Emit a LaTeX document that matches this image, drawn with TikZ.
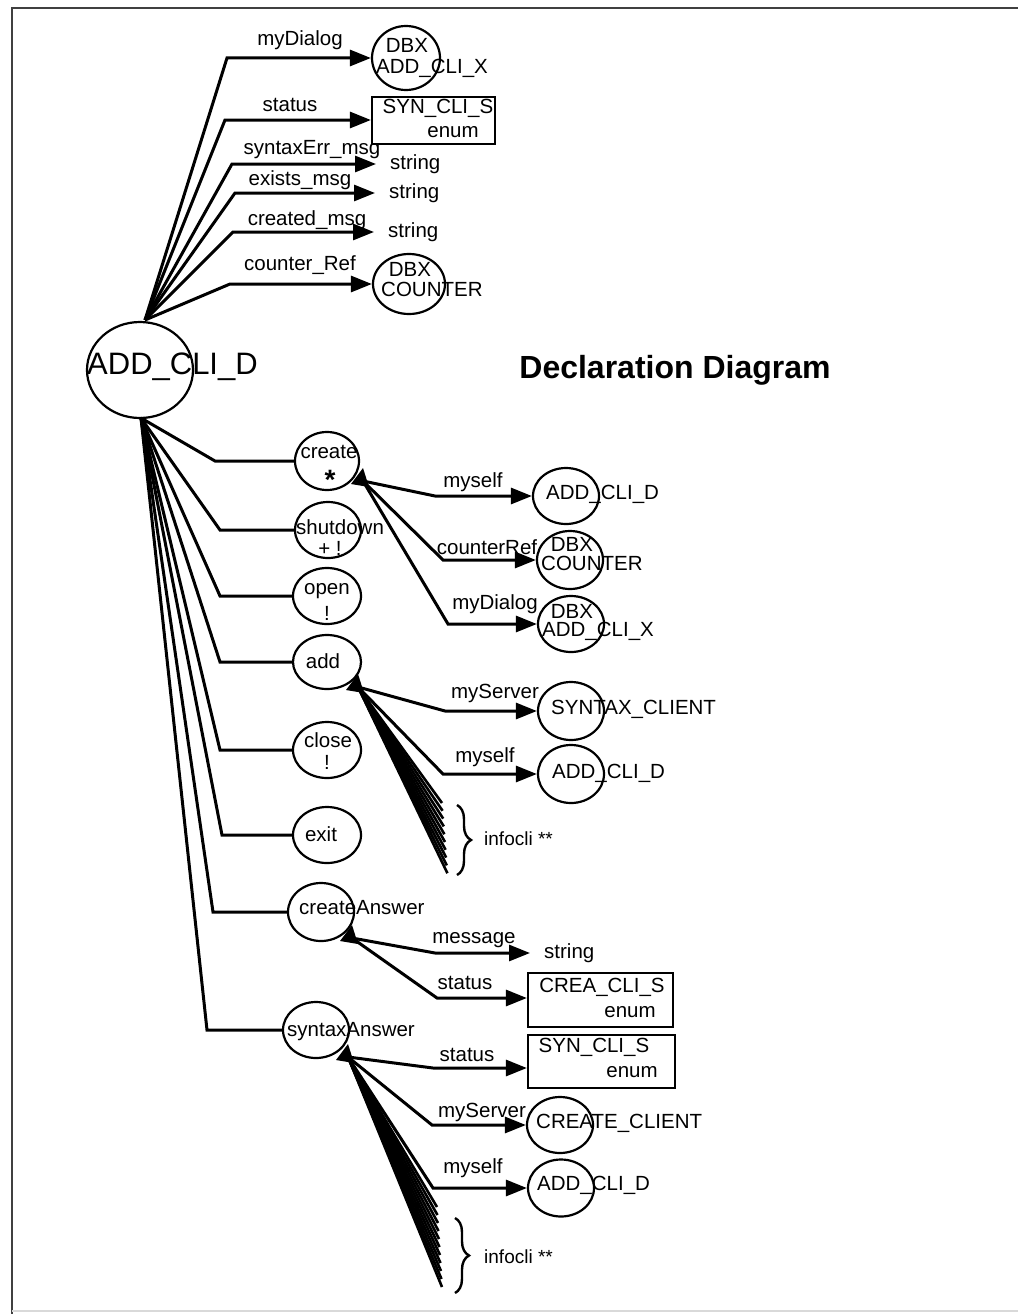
\documentclass[tikz,border=0pt]{standalone}
\usepackage{fontspec}
\setmainfont{Liberation Sans}
\usetikzlibrary{arrows.meta,decorations.pathreplacing,shapes.geometric}

\begin{document}
\begin{tikzpicture}[x=1pt,y=-1pt,
  txt/.style={font=\fontsize{20.5}{22}\selectfont, inner sep=0pt},
  oval/.style={draw, ellipse, line width=2.2pt, inner sep=0pt, minimum width=66pt, minimum height=56pt},
  box/.style={draw, rectangle, line width=2.2pt, inner sep=0pt},
  wire/.style={line width=3pt},
  link/.style={line width=3pt, -{Triangle[length=21pt,width=16pt]}},
  fan/.style={line width=2.6pt},
  curly/.style={line width=2.4pt, decorate, decoration={brace, amplitude=14pt, aspect=0.5}},
  forkmark/.pic={\fill (-12,3) -- (0,-13) -- (6,6) -- cycle;}]

\useasboundingbox (0,0) rectangle (1018,1314);

% page frame
\draw[line width=2.8pt, black!75] (12,1314) -- (12,8) -- (1018,8);
\draw[line width=1.2pt, black!15] (12,1311) -- (1018,1311);

% root class
\node[oval, minimum width=106pt, minimum height=96pt] (root) at (140,370) {};
\node[font=\fontsize{31}{34}\selectfont, inner sep=0pt, anchor=west] (rootname) at (87,367) {ADD\_CLI\_D};
\coordinate (rT) at (145,320);
\coordinate (rB) at (141,418);

\node[font=\fontsize{32}{36}\selectfont\bfseries, inner sep=0pt] (title) at (675,370) {Declaration Diagram};

% ---------- attributes ----------
\node[oval, minimum width=68pt, minimum height=64pt] (t1) at (406,58) {};
\node[txt] (t1a) at (407,45) {DBX};
\node[txt, anchor=west] (t1b) at (376,68) {ADD\_CLI\_X};

\node[box, minimum width=123pt, minimum height=47pt] (t2) at (433.5,120.5) {};
\node[txt] (t2a) at (438,108) {SYN\_CLI\_S};
\node[txt] (t2b) at (453,132) {enum};

\node[txt, anchor=west, inner xsep=14pt] (s1) at (376,164) {string};
\node[txt, anchor=west, inner xsep=14pt] (s2) at (375,193) {string};
\node[txt, anchor=west, inner xsep=14pt] (s3) at (374,232) {string};

\node[oval, minimum width=72pt, minimum height=60pt] (t3) at (409,284) {};
\node[txt] (t3a) at (410,269) {DBX};
\node[txt, anchor=west] (t3b) at (381,289) {COUNTER};

\coordinate (k1) at (227,58);
\coordinate (k2) at (225,120);
\coordinate (k3) at (232,164);
\coordinate (k4) at (235,193);
\coordinate (k5) at (233,232);
\coordinate (k6) at (230,284);

\draw[link] (rT) -- (k1) -- (t1.west);
\draw[link] (rT) -- (k2) -- (k2 -| t2.west);
\draw[link] (rT) -- (k3) -- (s1.west);
\draw[link] (rT) -- (k4) -- (s2.west);
\draw[link] (rT) -- (k5) -- (s3.west);
\draw[link] (rT) -- (k6) -- (t3.west);

\node[txt] (l1) at (300,40) {myDialog};
\node[txt] (l2) at (290,105) {status};
\node[txt] (l3) at (312,150) {syntaxErr\_msg};
\node[txt] (l4) at (300,180) {exists\_msg};
\node[txt] (l5) at (307,220) {created\_msg};
\node[txt] (l6) at (300,265) {counter\_Ref};

% ---------- methods ----------
\node[oval, minimum width=64pt, minimum height=58pt] (e1) at (327,461) {};
\node[txt] (e1a) at (329,452) {create};
\node[font=\fontsize{28}{30}\selectfont\bfseries, inner sep=0pt] (e1b) at (330,480) {*};

\node[oval, minimum width=66pt, minimum height=56pt] (e2) at (328,530) {};
\node[txt, anchor=west] (e2a) at (296,527) {shutdown};
\node[txt] (e2b) at (330,548) {+ !};

\node[oval, minimum width=68pt, minimum height=56pt] (e3) at (327,596) {};
\node[txt] (e3a) at (327,591) {open};
\node[txt] (e3b) at (327,613) {!};

\node[oval, minimum width=68pt, minimum height=54pt] (e4) at (327,662) {};
\node[txt] (e4a) at (323,661) {add};

\node[oval, minimum width=68pt, minimum height=56pt] (e5) at (327,750) {};
\node[txt] (e5a) at (328,740) {close};
\node[txt] (e5b) at (327,762) {!};

\node[oval, minimum width=68pt, minimum height=56pt] (e6) at (327,835) {};
\node[txt] (e6a) at (321,834) {exit};

\node[oval, minimum width=66pt, minimum height=58pt] (e7) at (321,912) {};
\node[txt, anchor=west] (e7a) at (299,908) {createAnswer};

\node[oval, minimum width=66pt, minimum height=56pt] (e8) at (316,1030) {};
\node[txt, anchor=west] (e8a) at (287,1032) {syntaxAnswer};

\coordinate (j1) at (215,461);
\coordinate (j2) at (220,530);
\coordinate (j3) at (220,596);
\coordinate (j4) at (220,662);
\coordinate (j5) at (220,750);
\coordinate (j6) at (222,835);
\coordinate (j7) at (213,912);
\coordinate (j8) at (207,1030);

\foreach \n in {1,...,8} \draw[wire] (rB) -- (j\n) -- (e\n.west);

% ---------- create parameters ----------
\coordinate (fC) at (363,481);
\pic at (fC) {forkmark};
\node[oval, minimum width=66pt, minimum height=56pt] (c1) at (566,496) {};
\node[txt, anchor=west] (c1a) at (546,494) {ADD\_CLI\_D};
\node[oval, minimum width=66pt, minimum height=58pt] (c2) at (570,560) {};
\node[txt] (c2a) at (572,544) {DBX};
\node[txt, anchor=west] (c2b) at (541,563) {COUNTER};
\node[oval, minimum width=66pt, minimum height=56pt] (c3) at (571,624) {};
\node[txt] (c3a) at (572,611) {DBX};
\node[txt, anchor=west] (c3b) at (542,631) {ADD\_CLI\_X};

\coordinate (m1) at (435,496);
\coordinate (m2) at (443,560);
\coordinate (m3) at (448,624);
\draw[link] (fC) -- (m1) -- (c1.west);
\draw[link] (fC) -- (m2) -- (c2.west);
\draw[link] (fC) -- (m3) -- (c3.west);
\node[txt] (cl1) at (473,482) {myself};
\node[txt] (cl2) at (487,547) {counterRef};
\node[txt] (cl3) at (495,604) {myDialog};

% ---------- add parameters ----------
\coordinate (fA) at (358,687);
\pic at (fA) {forkmark};
\node[oval, minimum width=66pt, minimum height=58pt] (a1) at (571,711) {};
\node[txt, anchor=west] (a1a) at (551,709) {SYNTAX\_CLIENT};
\node[oval, minimum width=66pt, minimum height=58pt] (a2) at (571,774) {};
\node[txt, anchor=west] (a2a) at (552,773) {ADD\_CLI\_D};
\coordinate (n1) at (445,711);
\coordinate (n2) at (443,774);
\draw[link] (fA) -- (n1) -- (a1.west);
\draw[link] (fA) -- (n2) -- (a2.west);
\node[txt] (al1) at (495,693) {myServer};
\node[txt] (al2) at (485,757) {myself};
\foreach \i in {0,...,9} {
  \coordinate (ia\i) at ({442+0.6*\i},{803+7.8*\i});
  \draw[fan] (fA) -- (ia\i);
}
\coordinate (ba1) at (457,805);
\coordinate (ba2) at (457,875);
\draw[curly] (ba1) -- (ba2);
\node[font=\fontsize{19}{21}\selectfont, inner sep=0pt, anchor=west] (ainfo) at (484,839) {infocli **};

% ---------- createAnswer parameters ----------
\coordinate (fCA) at (352,938);
\pic at (fCA) {forkmark};
\node[txt, anchor=west, inner xsep=14pt] (s4) at (530,953) {string};
\node[box, minimum width=145pt, minimum height=54pt] (b2) at (600.5,1000) {};
\node[txt] (b2a) at (602,987) {CREA\_CLI\_S};
\node[txt] (b2b) at (630,1012) {enum};
\coordinate (p1) at (435,953);
\coordinate (p2) at (437,998);
\draw[link] (fCA) -- (p1) -- (s4.west);
\draw[link] (fCA) -- (p2) -- (p2 -| b2.west);
\node[txt] (pl1) at (474,940) {message};
\node[txt] (pl2) at (465,983) {status};

% ---------- syntaxAnswer parameters ----------
\coordinate (fSA) at (348,1057);
\pic at (fSA) {forkmark};
\node[box, minimum width=147pt, minimum height=53pt] (b3) at (601.5,1061.5) {};
\node[txt] (b3a) at (594,1047) {SYN\_CLI\_S};
\node[txt] (b3b) at (632,1072) {enum};
\node[oval, minimum width=66pt, minimum height=56pt] (x1) at (560,1125) {};
\node[txt, anchor=west] (x1a) at (536,1123) {CREATE\_CLIENT};
\node[oval, minimum width=66pt, minimum height=57pt] (x2) at (561,1188) {};
\node[txt, anchor=west] (x2a) at (537,1185) {ADD\_CLI\_D};
\coordinate (q1) at (433,1068);
\coordinate (q2) at (432,1125);
\coordinate (q3) at (433,1188);
\draw[link] (fSA) -- (q1) -- (q1 -| b3.west);
\draw[link] (fSA) -- (q2) -- (x1.west);
\draw[link] (fSA) -- (q3) -- (x2.west);
\node[txt] (ql1) at (467,1055) {status};
\node[txt] (ql2) at (482,1112) {myServer};
\node[txt] (ql3) at (473,1168) {myself};
\foreach \i in {0,...,10} {
  \coordinate (ib\i) at ({437+0.5*\i},{1207+8*\i});
  \draw[fan] (fSA) -- (ib\i);
}
\coordinate (bb1) at (455,1218);
\coordinate (bb2) at (455,1293);
\draw[curly] (bb1) -- (bb2);
\node[font=\fontsize{19}{21}\selectfont, inner sep=0pt, anchor=west] (sinfo) at (484,1257) {infocli **};

\end{tikzpicture}
\end{document}
